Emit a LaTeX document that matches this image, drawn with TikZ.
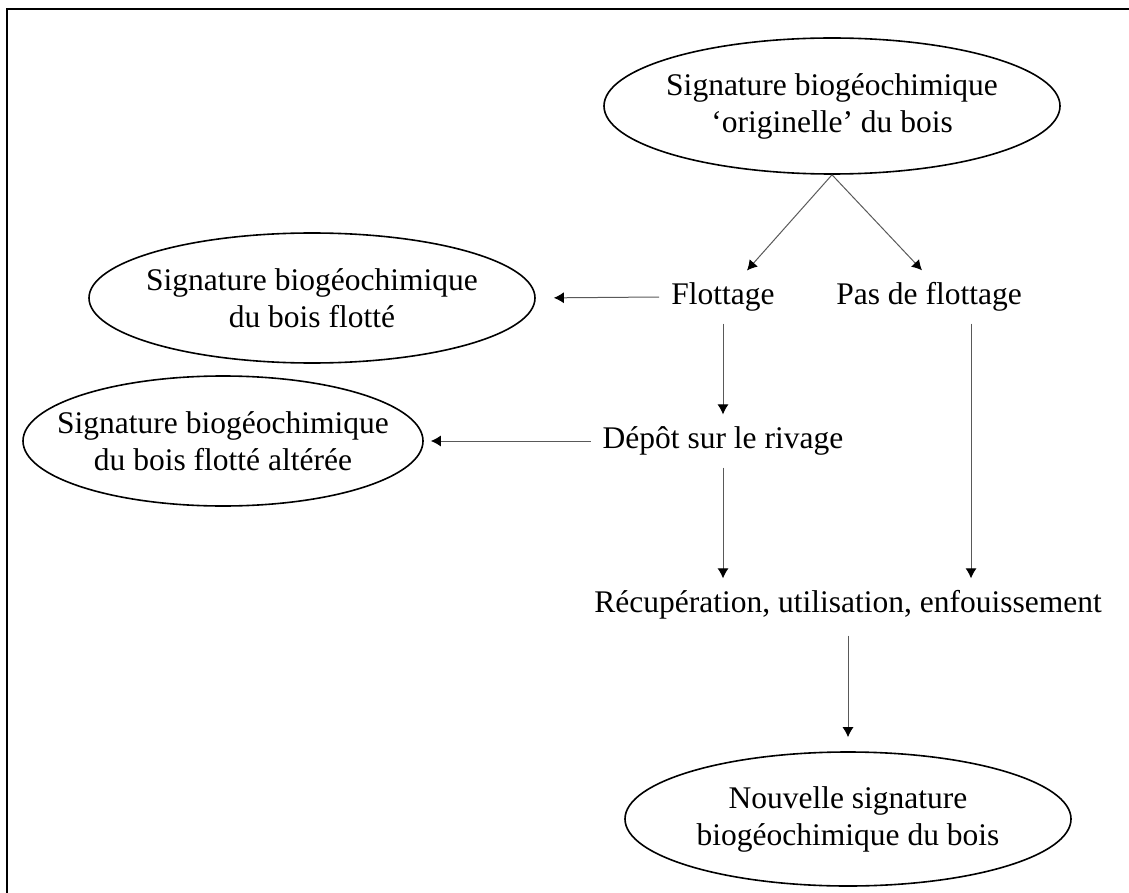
\documentclass[tikz,border=0pt]{standalone}
\usepackage{fontspec}
\setmainfont{Liberation Serif}
\usepackage{tikz}
\usetikzlibrary{arrows.meta, shapes.geometric, positioning}

\begin{document}
\begin{tikzpicture}[x=1pt, y=-1pt,
    font=\fontsize{31.5}{37}\selectfont,
    sig/.style={ellipse, draw, line width=1.6pt, align=center, inner xsep=-25pt, inner ysep=0pt},
    etape/.style={inner sep=12pt, align=center},
    fl/.style={draw=black!65, line width=1pt, -{Latex[length=10pt, width=11pt, color=black]}}]
    % Cadre
    \useasboundingbox (0,0) rectangle (1129,893);
    \draw[line width=2pt] (7,893) -- (7,9) -- (1129,9);

    % Signatures
    \node[sig, minimum width=456pt, minimum height=136pt] (ori) at (832,106)
        {Signature biogéochimique\\`originelle' du bois};
    \node[sig, minimum width=446pt, minimum height=130pt] (flotte) at (312,298)
        {Signature biogéochimique\\du bois flotté};
    \node[sig, minimum width=400pt, minimum height=130pt] (altere) at (223,441)
        {Signature biogéochimique\\du bois flotté altérée};
    \node[sig, minimum width=446pt, minimum height=134pt] (nouv) at (848,819)
        {Nouvelle signature\\biogéochimique du bois};

    % Etapes
    \node[etape] (flot) at (723,297) {Flottage};
    \node[etape] (pas) at (929,297) {Pas de flottage};
    \node[etape] (depot) at (723,441) {Dépôt sur le rivage};
    \node[etape] (recup) at (848,605) {Récupération, utilisation, enfouissement};

    % Fleches
    \draw[fl] (ori.south) -- ([xshift=24pt]flot.north);
    \draw[fl] (ori.south) -- ([xshift=-7pt]pas.north);
    \draw[fl, shorten >=18pt] (flot.west) -- (flotte.east);
    \draw[fl, shorten >=7pt] (depot.west) -- (altere.east);
    \draw[fl] (flot.south) -- (depot.north);
    \draw[fl] (depot.south) -- (depot.south |- recup.north);
    \draw[fl] ([xshift=42pt]pas.south) -- ([xshift=42pt]pas.south |- recup.north);
    \draw[fl, shorten <=4pt, shorten >=14pt] (recup.south) -- (nouv.north);
\end{tikzpicture}
\end{document}
